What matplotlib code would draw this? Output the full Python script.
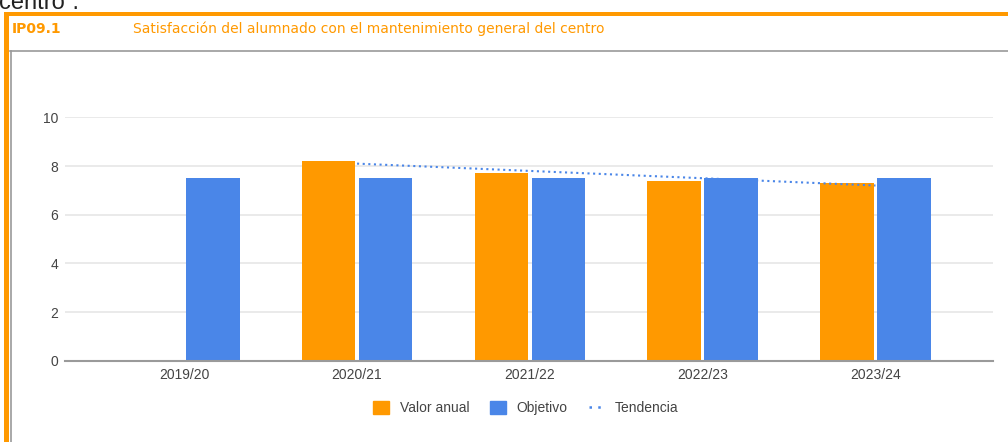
import numpy as np
import matplotlib.pyplot as plt
from matplotlib.patches import Rectangle, Patch
from matplotlib.lines import Line2D

plt.rcParams['font.family'] = ['Liberation Sans', 'DejaVu Sans']

cursos = ['2019/20', '2020/21', '2021/22', '2022/23', '2023/24']
valor_anual = [np.nan, 8.2, 7.7, 7.4, 7.3]
objetivo = [7.5, 7.5, 7.5, 7.5, 7.5]
yticks = [0, 2, 4, 6, 8, 10]

naranja = '#ff9900'
azul = '#4a86e8'

W, H = 1008, 442
fig = plt.figure(figsize=(W / 100, H / 100), dpi=100)

def px(x, y):
    return x / W, 1 - y / H

# marco naranja y caja gris
fig.add_artist(Rectangle(px(4, 16), (W - 4) / W, 4 / H, transform=fig.transFigure,
                         facecolor=naranja, edgecolor='none'))
fig.add_artist(Rectangle(px(4, H), 5 / W, (H - 12) / H, transform=fig.transFigure,
                         facecolor=naranja, edgecolor='none'))
fig.add_artist(Line2D([10 / W, 1], [1 - 51 / H] * 2, transform=fig.transFigure,
                      color='#9a9a9a', lw=1.2))
fig.add_artist(Line2D([11 / W] * 2, [0, 1 - 51 / H], transform=fig.transFigure,
                      color='#9a9a9a', lw=1.2))

# texto cortado arriba
fig.text(*px(-1, 9), 'centro\u201d.', fontsize=17, color='#222222', va='baseline')

fig.text(*px(12, 29), 'IP09.1', fontsize=10, fontweight='bold', color=naranja,
         va='center', family='DejaVu Sans')
fig.text(*px(133, 29), 'Satisfacción del alumnado con el mantenimiento general del centro',
         fontsize=10, color=naranja, va='center', family='DejaVu Sans')

ax = fig.add_axes([65 / W, 81.3 / H, 928 / W, 243.3 / H])
x = np.arange(len(cursos))
w = 0.31
ax.bar(x - 0.165, valor_anual, w, color=naranja, zorder=2, label='Valor anual')
ax.bar(x + 0.165, objetivo, w, color=azul, zorder=2, label='Objetivo')

# tendencia lineal sobre los valores anuales
va = np.array(valor_anual)
ok = ~np.isnan(va)
coef = np.polyfit(x[ok], va[ok], 1)
ax.plot(x[ok], np.polyval(coef, x[ok]), color=azul, lw=1.5,
        linestyle=(0, (1, 1.7)), zorder=3)

ax.set_xlim(-0.69, 4.68)
ax.set_ylim(0, 10)
ax.set_xticks(x)
ax.set_xticklabels(cursos)
ax.set_yticks(yticks)
ax.tick_params(length=0, labelsize=10, labelcolor='#444444', pad=5)
ax.grid(axis='y', color='#e6e6e6', lw=1.2, zorder=0)
ax.set_axisbelow(True)
for s in ['left', 'right', 'top']:
    ax.spines[s].set_visible(False)
ax.spines['bottom'].set_color('#9a9a9a')
ax.spines['bottom'].set_linewidth(1.5)
ax.spines['bottom'].set_zorder(4)

handles = [Patch(color=naranja, label='Valor anual'),
           Patch(color=azul, label='Objetivo'),
           Line2D([], [], color=azul, lw=1.8, linestyle=(0, (1, 2.5)), label='Tendencia')]
fig.legend(handles=handles, loc='center', bbox_to_anchor=(526 / W, 1 - 408 / H), ncol=3,
           frameon=False, fontsize=10, handlelength=1.1, handleheight=1.1,
           handletextpad=0.8, columnspacing=1.5, labelcolor='#444444')

fig.savefig('out.png', dpi=100)
